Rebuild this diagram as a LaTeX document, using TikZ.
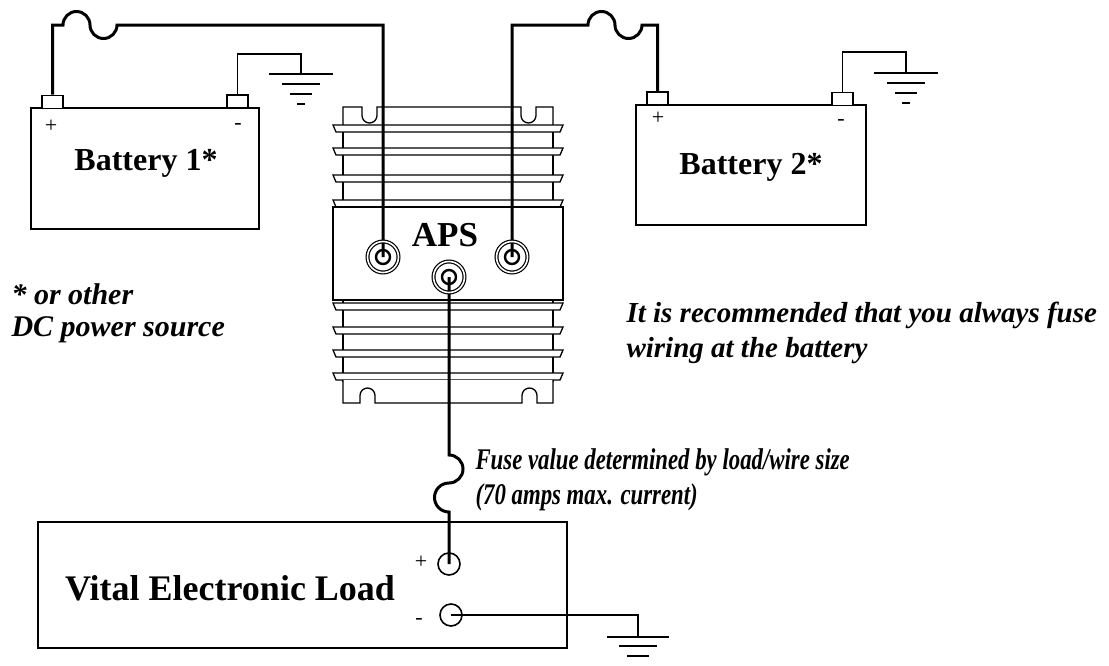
\documentclass[tikz,border=0pt]{standalone}
\usepackage{fontspec}
\setmainfont{Liberation Serif}
\begin{document}
\begin{tikzpicture}[x=1pt,y=-1pt,
    wire/.style={line width=3pt},
    lead/.style={line width=1.6pt},
    outline/.style={line width=1.3pt},
    box/.style={draw, line width=2pt, inner sep=0pt},
    post/.style={draw, fill=white, line width=1.6pt, minimum width=21pt, minimum height=13pt, inner sep=0pt},
    stud/.style={circle, draw, double, double distance=1.6pt, line width=1.2pt, minimum size=31pt, inner sep=0pt},
    jack/.style={circle, draw, line width=1.6pt, minimum size=22pt, inner sep=0pt},
    title/.style={font=\fontsize{32}{36}\selectfont\bfseries},
    sign/.style={font=\fontsize{22}{22}\selectfont},
    remark/.style={font=\fontsize{30}{32}\selectfont\bfseries\itshape, align=left, anchor=west}
  ]
  \useasboundingbox (0,0) rectangle (1109,665);

  % batteries
  \node[box, minimum width=228pt, minimum height=121pt] (bat1) at (145,168.5) {};
  \node[title] (bat1txt) at (146,163) {Battery 1*};
  \node[post] (b1p) at (52.5,102) {};
  \node[post] (b1n) at (237.5,101.5) {};
  \node[sign] (b1plus) at (51,126) {+};
  \node[sign] (b1minus) at (238,126) {-};

  \node[box, minimum width=230pt, minimum height=120pt] (bat2) at (751,165) {};
  \node[title] (bat2txt) at (751,167) {Battery 2*};
  \node[post] (b2p) at (657.5,98.5) {};
  \node[post] (b2n) at (842.5,99) {};
  \node[sign] (b2plus) at (658,118) {+};
  \node[sign] (b2minus) at (841,122) {-};

  % APS body
  \draw[outline] (343,125) -- (343,382) (553,125) -- (553,382);
  \draw[outline, fill=white] (343,125) -- (343,107) -- (362,107) -- (362,115.5)
    arc[start angle=180, end angle=0, radius=7.5] -- (377,107) -- (521,107) -- (521,115.5)
    arc[start angle=180, end angle=0, radius=7.5] -- (536,107) -- (553,107) -- (553,125);
  \foreach \t in {125,148,175,200,303,327,350,373}
    \draw[outline, fill=white] (333,\t) -- (563,\t) -- (560,\t+7) -- (336,\t+7) -- cycle;
  \draw[outline, fill=white] (333,207) rectangle (563,300);
  \draw[outline, fill=white] (343,380) -- (343,403) -- (360,403) -- (360,395.5)
    arc[start angle=180, end angle=360, radius=7.5] -- (375,403) -- (522,403) -- (522,395.5)
    arc[start angle=180, end angle=360, radius=7.5] -- (537,403) -- (553,403) -- (553,380);
  \node[font=\fontsize{35}{35}\selectfont\bfseries] (apstxt) at (445,235) {APS};
  \coordinate (t1) at (383,257);
  \coordinate (t2) at (512,257);
  \coordinate (tout) at (449,277);

  % load
  \node[box, minimum width=529pt, minimum height=126pt] (load) at (302.5,585) {};
  \node[font=\fontsize{36}{36}\selectfont\bfseries] (loadtxt) at (230,588) {Vital Electronic Load};
  \node[jack] (lp) at (449,564) {};
  \node[jack] (ln) at (451,615) {};
  \node[sign] (lplus) at (421,562) {+};
  \node[sign] (lminus) at (419,621) {-};

  % fused wires
  \draw[wire] (b1p.north) |- (63,25) arc[start angle=180, end angle=360, radius=13.5]
    arc[start angle=180, end angle=0, radius=13.5] -| (t1);
  \draw[wire] (b2p.north) |- (642,25) arc[start angle=0, end angle=180, radius=13.5]
    arc[start angle=0, end angle=-180, radius=13.5] -| (t2);
  \draw[wire] (tout) -- (449,455) arc[start angle=-90, end angle=90, radius=14]
    arc[start angle=-90, end angle=-270, radius=14.5] -- (lp.center);

  % terminals
  \foreach \s in {t1,t2,tout} {
    \node[stud] (\s ring) at (\s) {};
    \draw[line width=2.4pt] (\s) circle (7);
  }

  % grounds
  \coordinate (g1top) at (301,54);
  \coordinate (g1) at (301,74);
  \coordinate (g2top) at (906,52);
  \coordinate (g2) at (906,73);
  \coordinate (g3) at (638,637);
  \draw[lead] (b1n.north) |- (g1top) -- (g1);
  \draw[lead] (b2n.north) |- (g2top) -- (g2);
  \draw[lead] (ln.center) -| (g3);
  \foreach \w/\d in {32/0,19/10,11/20,4/30} {
    \draw[lead] ([shift={(-\w,\d)}]g1) -- ([shift={(\w,\d)}]g1);
    \draw[lead] ([shift={(-\w,\d)}]g2) -- ([shift={(\w,\d)}]g2);
  }
  \foreach \w/\d in {31/0,19/9,11/19}
    \draw[lead] ([shift={(-\w,\d)}]g3) -- ([shift={(\w,\d)}]g3);

  % notes
  \node[remark] (note1) at (8,313) {* or other\\DC power source};
  \node[remark, font=\fontsize{29}{35}\selectfont\bfseries\itshape] (note2) at (623,333) {It is recommended that you always fuse\\wiring at the battery};
  \node[remark, font=\fontsize{30}{35}\selectfont\bfseries\itshape\addfontfeature{FakeStretch=0.76}] (note3) at (472,480) {Fuse value determined by load/wire size\\(70 amps max. current)};
\end{tikzpicture}
\end{document}
